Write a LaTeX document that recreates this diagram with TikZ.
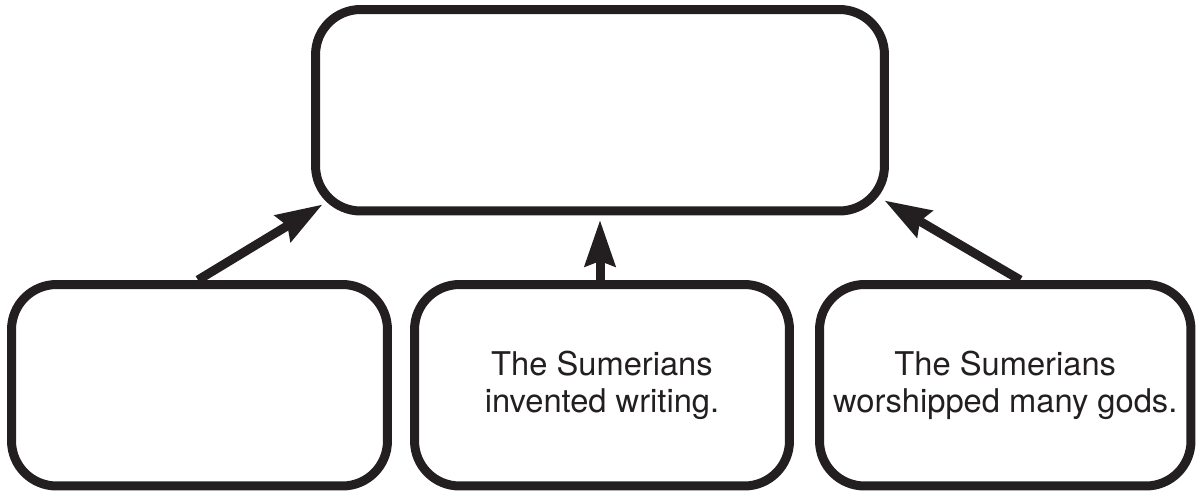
\documentclass[tikz,border=0pt]{standalone}
\usepackage{fontspec}
\setmainfont{TeX Gyre Heros}
\usetikzlibrary{arrows.meta,calc}
\definecolor{ink}{RGB}{35,31,32}

\begin{document}
\begin{tikzpicture}[x=0.02cm,y=-0.02cm]
        \tikzstyle{every node}=[draw=ink, rectangle, rounded corners=0.9cm, line width=0.18cm, text=ink, align=center, minimum height=4.03cm, font=\fontsize{18.6}{21.5}\selectfont]
        \tikzstyle{arr}=[draw=ink, line width=0.18cm, -{Stealth[length=0.92cm,width=0.6cm,inset=0.1cm]}]

        \useasboundingbox (0,0) rectangle (1196,493);

        \node[minimum width=11.38cm](main)at(600,110.25){};
        \node[minimum width=7.52cm](a)at(199.5,385.25){};
        \node[minimum width=7.5cm](b)at(602,385.25){The Sumerians\\invented writing.};
        \node[minimum width=7.43cm](c)at(1005.25,385.25){The Sumerians\\worshipped many gods.};

        \draw[arr] ($(a.north)+(-1.5,0)$) -- ($(main.south west)+(11.5,-11)$);
        \draw[arr] (main.south |- b.north) -- ($(main.south)+(0,4.5)$);
        \draw[arr] ($(c.north)+(15,0)$) -- ($(main.south east)+(-4.5,-15)$);
    \end{tikzpicture}
\end{document}
